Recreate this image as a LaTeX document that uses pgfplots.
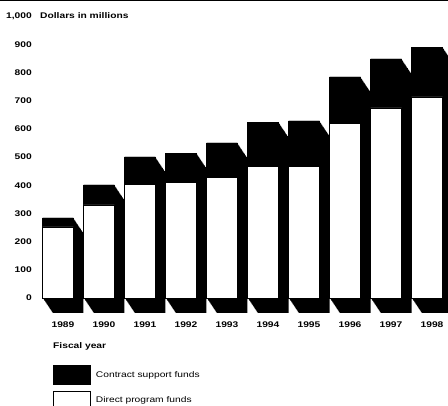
\documentclass[border=0pt]{standalone}
\usepackage{pgfplots}
\pgfplotsset{compat=1.18}
\usepackage{pgfplotstable}
\usepackage{fontspec}
\setmainfont{Liberation Sans}
\newfontfamily\wfont[FakeStretch=1.25]{Liberation Sans}
\newcommand\tickfont{\wfont\bfseries\fontsize{8.2}{9}\selectfont}
\newcommand\legfont{\wfont\fontsize{8.2}{9}\selectfont}

\pgfplotstableread{
x total direct
0 284 252
1 401 330
2 500 404
3 514 411
4 550 429
5 624 468
6 628 465
7 784 620
8 848 674
9 890 713
}\data

\begin{document}
\begin{tikzpicture}
\begin{axis}[
  scale only axis,
  width=410pt, height=314.43pt,
  xmin=-0.5, xmax=9.5, ymin=-60, ymax=1055,
  clip=false,
  axis line style={draw=none},
  tick style={draw=none},
  major tick length=0pt,
  xtick={0,1,2,3,4,5,6,7,8,9},
  xticklabels={1989,1990,1991,1992,1993,1994,1995,1996,1997,1998},
  ytick={0,100,200,300,400,500,600,700,800,900,1000},
  yticklabels={0,100,200,300,400,500,600,700,800,900,{1,000}},
  ticklabel style={font=\tickfont},
  yticklabel style={anchor=east, inner sep=0pt, xshift=-5.5pt},
  xticklabel style={anchor=north, inner sep=0pt, yshift=-7pt, xshift=5pt},
  legend cell align=left,
  legend style={at={(axis cs:-0.122,-237.6)}, anchor=north west, draw=none, fill=none,
    inner sep=0pt, row sep=6pt, column sep=5pt, font=\legfont, nodes={inner sep=0pt}},
]
% shadow / depth
\pgfplotsinvokeforeach{0,...,16}{
  \addplot[ybar, bar width=0.756, bar shift={#1*0.015244}, fill=black, draw=none, forget plot]
    table[x=x, y expr={\thisrow{total}-#1*3.325}] {\data};
  \addplot[ybar, bar width=0.756, bar shift={#1*0.015244}, fill=black, draw=none, forget plot]
    table[x=x, y expr={-#1*3.325}] {\data};
}
% front faces
\addplot[ybar, bar width=0.756, fill=black, draw=black, forget plot] table[x=x, y=total] {\data};
\addplot[ybar, bar width=0.756, fill=white, draw=black, line width=0.8pt, forget plot] table[x=x, y=direct] {\data};

\addlegendimage{legend image code/.code={\draw[fill=black, draw=black] (0pt,-9.5pt) rectangle (37pt,9.5pt);}}
\addlegendentry{Contract support funds}
\addlegendimage{legend image code/.code={\draw[fill=white, draw=black, line width=0.8pt] (0pt,-9.5pt) rectangle (37pt,9.5pt);}}
\addlegendentry{Direct program funds}

\draw[line width=1pt] (axis cs:-1.5,1055) -- (axis cs:9.6,1055);
\node[anchor=west, inner sep=0pt, xshift=2.5pt, font=\tickfont] at (axis cs:-0.5,1000) {Dollars in millions};
\node[anchor=west, inner sep=0pt, font=\tickfont] at (axis cs:-0.122,-170) {Fiscal year};

\coordinate (bbA) at (axis cs:-1.41463,1056.74);
\coordinate (bbB) at (axis cs:9.51220,-382.98);
\end{axis}
\pgfresetboundingbox
\path[use as bounding box] (bbA) rectangle (bbB);
\end{tikzpicture}
\end{document}
